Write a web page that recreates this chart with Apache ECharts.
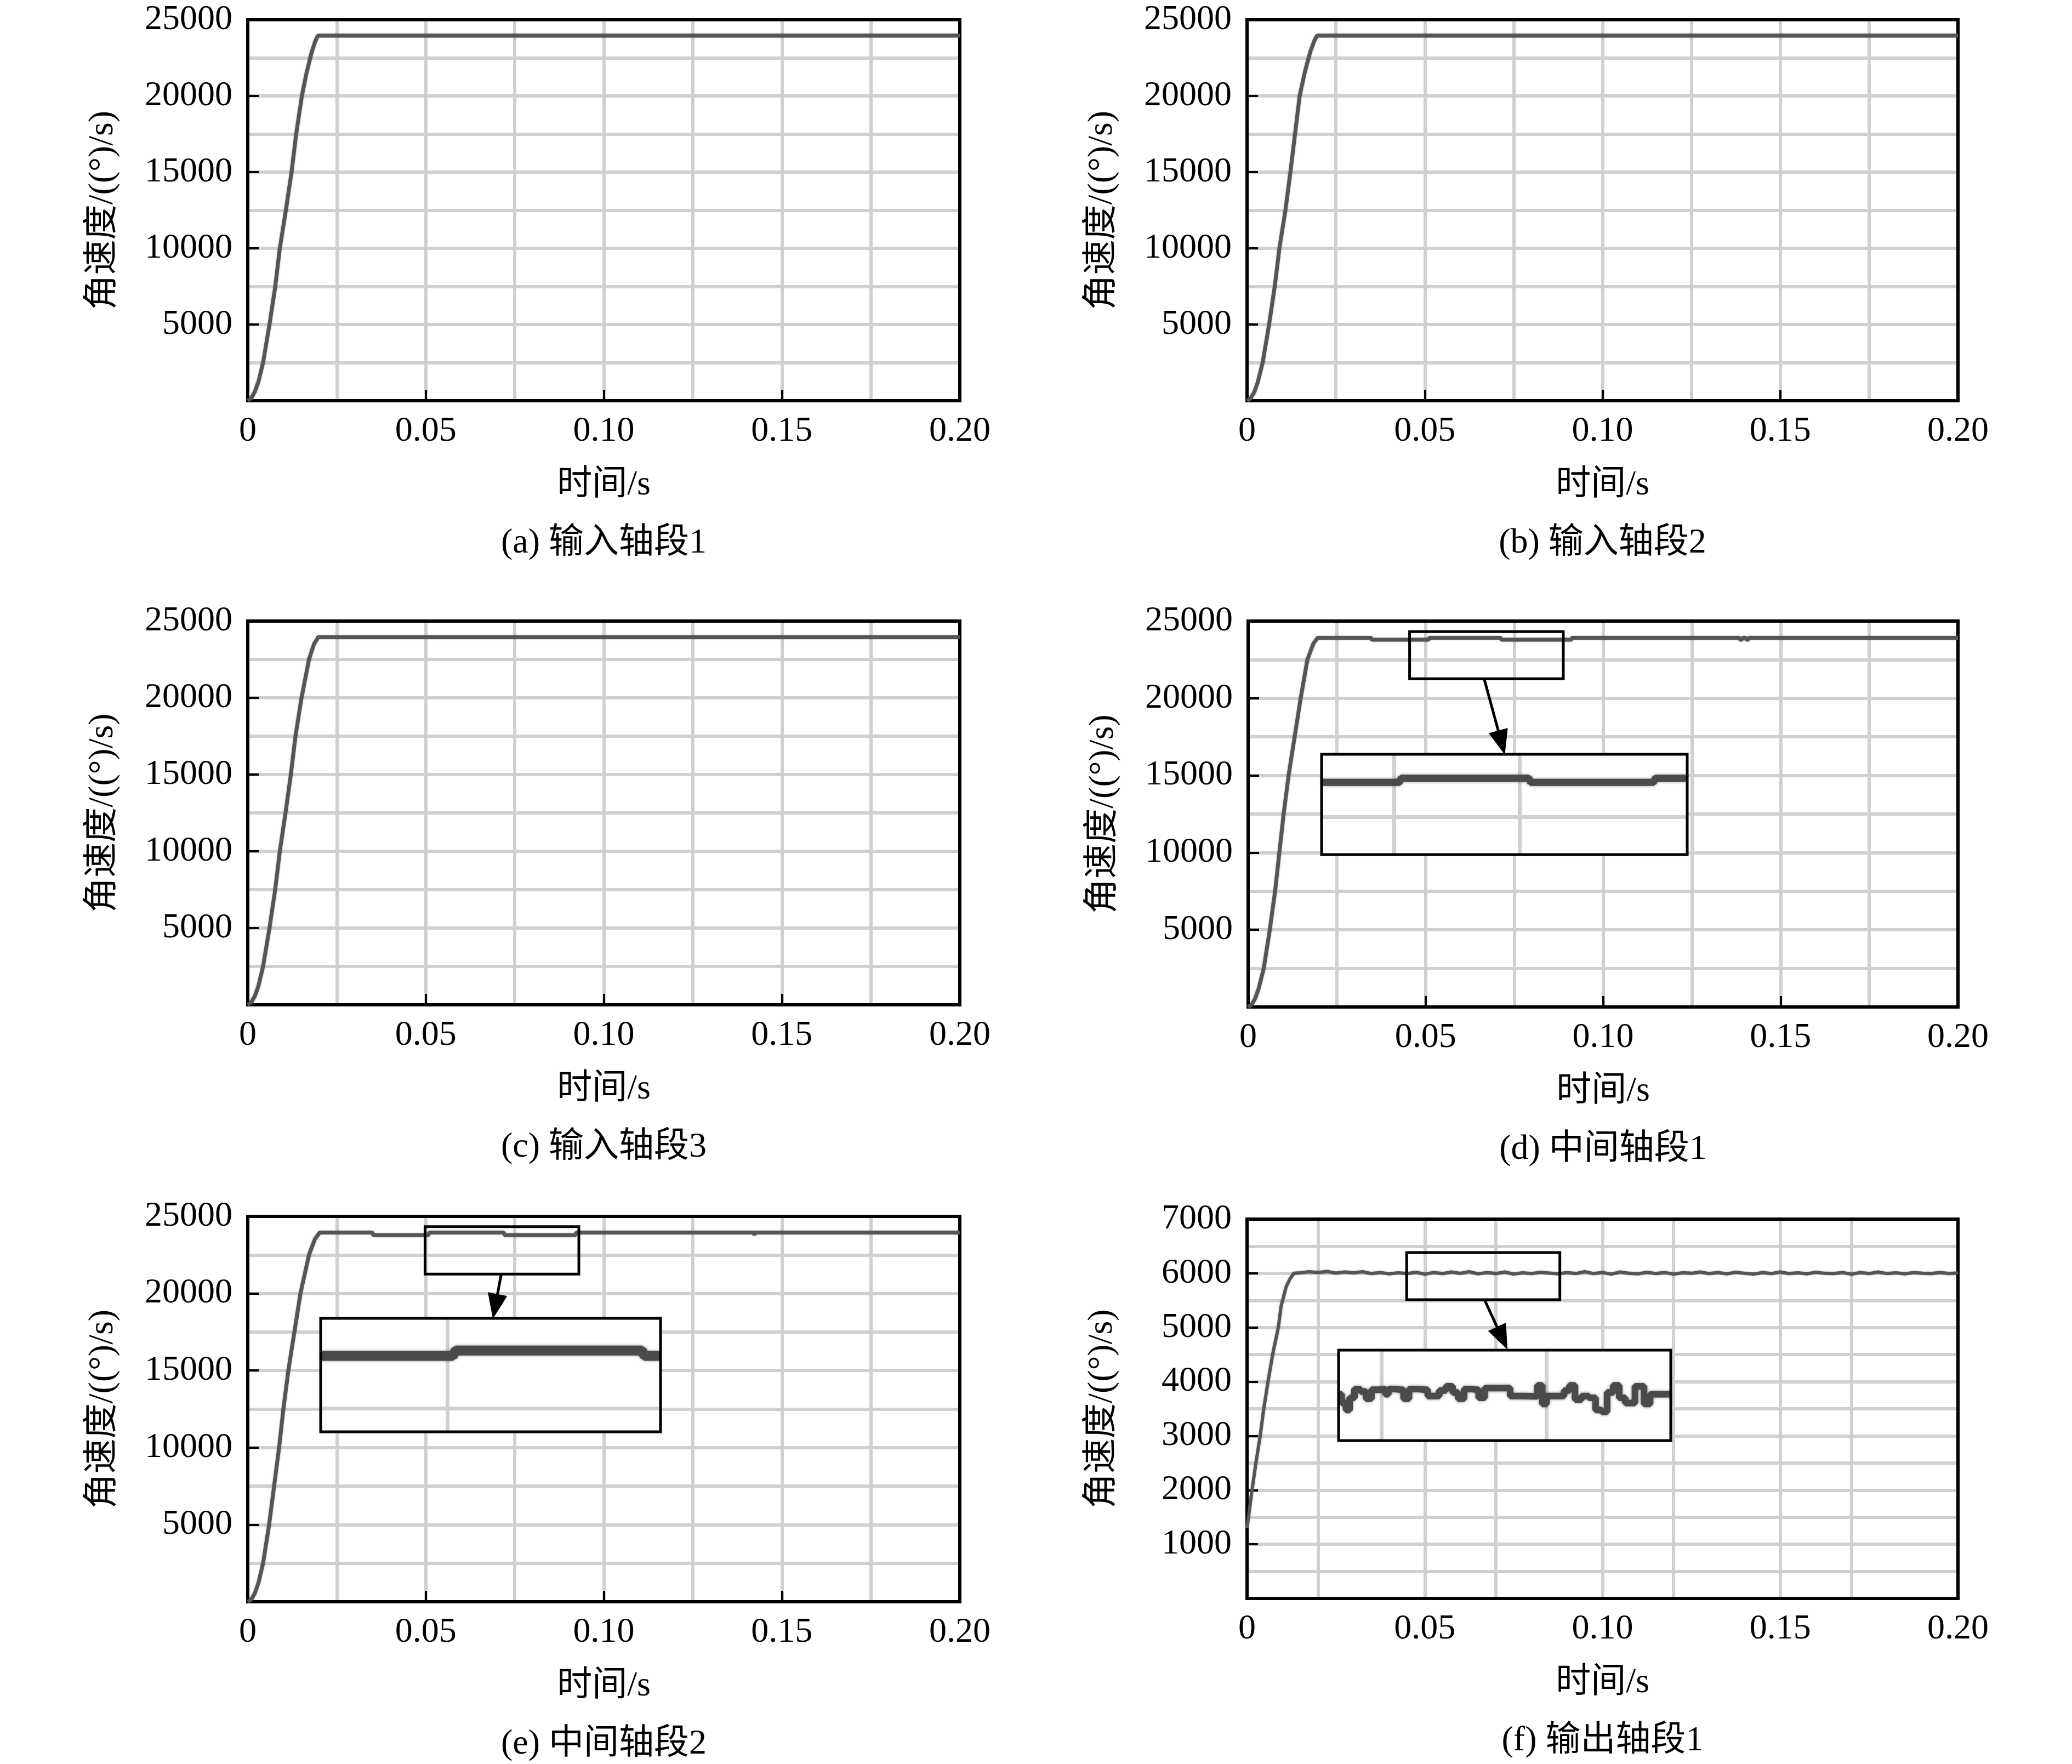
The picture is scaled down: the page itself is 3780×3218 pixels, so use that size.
<!DOCTYPE html>
<html>
<head>
<meta charset="utf-8">
<script src="https://cdn.jsdelivr.net/npm/echarts@6/dist/echarts.min.js"></script>
<style>html,body{margin:0;padding:0;background:#fff;}#c{width:3780px;height:3218px;}</style>
</head>
<body>
<div id="c"></div>
<script>
// ---------- text ----------
const xTickLabels = ['0', '0.05', '0.10', '0.15', '0.20'];
const yTickLabels = ['', '5000', '10000', '15000', '20000', '25000'];
const yTickLabelsF = ['', '1000', '2000', '3000', '4000', '5000', '6000', '7000'];
const xAxisTitle = '时间/s';
const yAxisTitle = '角速度/((°)/s)';
const captions = ['(a) 输入轴段1', '(b) 输入轴段2', '(c) 输入轴段3', '(d) 中间轴段1', '(e) 中间轴段2', '(f) 输出轴段1'];

// ---------- series data ----------
const tA = [0, 0.001, 0.002, 0.003, 0.0043, 0.0061, 0.0077, 0.009, 0.0107, 0.0123, 0.0136, 0.0152, 0.0165, 0.0179, 0.0189, 0.0197, 0.2];
const vA = [0, 170, 600, 1250, 2500, 5000, 7450, 10000, 12500, 15000, 17500, 20000, 21500, 22830, 23550, 23960, 23960];

const tB = [0, 0.001, 0.002, 0.003, 0.0044, 0.0062, 0.0078, 0.0091, 0.0108, 0.0122, 0.0135, 0.0148, 0.0163, 0.0178, 0.0189, 0.0197, 0.2];
const vB = [0, 150, 550, 1200, 2500, 5000, 7500, 10000, 12500, 15000, 17500, 20000, 21600, 22900, 23600, 23960, 23960];

const tC = [0, 0.001, 0.002, 0.003, 0.0043, 0.0061, 0.0077, 0.009, 0.0106, 0.0121, 0.0134, 0.0151, 0.0172, 0.0186, 0.0198, 0.2];
const vC = [0, 160, 580, 1230, 2500, 5000, 7500, 10000, 12500, 15000, 17500, 20000, 22500, 23500, 23950, 23950];

const tD = [0, 0.001, 0.002, 0.003, 0.0044, 0.0061, 0.0076, 0.0088, 0.01, 0.0114, 0.0131, 0.0148, 0.0167, 0.0184, 0.0196,
  0.0346, 0.0349, 0.0508, 0.0511, 0.0711, 0.0714, 0.091, 0.0913, 0.1384, 0.1386, 0.1391, 0.1393, 0.1402, 0.1404, 0.1409, 0.1411, 0.2];
const vD = [0, 150, 560, 1220, 2500, 5000, 7500, 10000, 12500, 15000, 17500, 20000, 22500, 23550, 23920,
  23920, 23790, 23790, 23920, 23920, 23790, 23790, 23920, 23920, 23790, 23790, 23920, 23920, 23790, 23790, 23920, 23920];

const tE = [0, 0.001, 0.002, 0.003, 0.0043, 0.006, 0.0074, 0.0088, 0.01, 0.0114, 0.0131, 0.0148, 0.0172, 0.0189, 0.0202,
  0.035, 0.0353, 0.0507, 0.051, 0.0719, 0.0722, 0.092, 0.0923, 0.1421, 0.1423, 0.1425, 0.2];
const vE = [0, 150, 560, 1220, 2500, 5000, 7500, 10000, 12500, 15000, 17500, 20000, 22500, 23550, 23950,
  23950, 23780, 23780, 23950, 23950, 23780, 23780, 23950, 23950, 23790, 23950, 23950];

const tFramp = [0, 0.0003, 0.0014, 0.0025, 0.0037, 0.0047, 0.0059, 0.0072, 0.0088, 0.0096, 0.011, 0.0121, 0.0132];
const vFramp = [1300, 1310, 2000, 2500, 3000, 3500, 4000, 4500, 5000, 5400, 5750, 5900, 6000];
const tFplat = [
  0.015, 0.0175, 0.02, 0.0225, 0.025, 0.0275, 0.03, 0.0325, 0.035, 0.0375,
  0.04, 0.0425, 0.045, 0.0475, 0.05, 0.0525, 0.055, 0.0575, 0.06, 0.0625,
  0.065, 0.0675, 0.07, 0.0725, 0.075, 0.0775, 0.08, 0.0825, 0.085, 0.0875,
  0.09, 0.0925, 0.095, 0.0975, 0.1, 0.1025, 0.105, 0.1075, 0.11, 0.1125,
  0.115, 0.1175, 0.12, 0.1225, 0.125, 0.1275, 0.13, 0.1325, 0.135, 0.1375,
  0.14, 0.1425, 0.145, 0.1475, 0.15, 0.1525, 0.155, 0.1575, 0.16, 0.1625,
  0.165, 0.1675, 0.17, 0.1725, 0.175, 0.1775, 0.18, 0.1825, 0.185, 0.1875,
  0.19, 0.1925, 0.195, 0.1975, 0.2];
const vFplat = [
  6010, 6030, 6015, 6035, 6005, 6025, 6010, 6030, 5995, 6015,
  5990, 6010, 5995, 6020, 5985, 6015, 5995, 6025, 6000, 6030,
  5990, 6015, 5995, 6025, 5985, 6010, 5995, 6020, 6005, 5990,
  6015, 5995, 6030, 5995, 6015, 5985, 6025, 6000, 5990, 6020,
  5995, 6015, 5985, 6010, 6000, 6025, 5995, 6015, 5990, 6020,
  6000, 5985, 6015, 5995, 6025, 5995, 6010, 5990, 6020, 6000,
  5995, 6015, 5985, 6015, 5995, 6025, 5995, 6010, 5990, 6015,
  6000, 5995, 6015, 5995, 6005];
const tF = tFramp.concat(tFplat);
const vF = vFramp.concat(vFplat);

// ---------- magnified insets ----------
const tDin = [0.0384, 0.0508, 0.0511, 0.0715, 0.0718, 0.0914, 0.0917, 0.0968];
const vDin = [23790, 23790, 23920, 23920, 23790, 23790, 23920, 23920];
const tEin = [0.0357, 0.0506, 0.0509, 0.0719, 0.0722, 0.074];
const vEin = [23780, 23780, 23950, 23950, 23780, 23780];
const tFin = [0.0448, 0.04489, 0.04548, 0.04592, 0.04636, 0.04709, 0.04783, 0.04842, 0.04915, 0.05033, 0.05062,
  0.05106, 0.05239, 0.05297, 0.05371, 0.05533, 0.05591, 0.05665, 0.05738, 0.05827, 0.059, 0.05959,
  0.06047, 0.0615, 0.06209, 0.06297, 0.06532, 0.06591, 0.06856, 0.06929, 0.06973, 0.07032, 0.07179,
  0.07252, 0.07311, 0.07385, 0.07473, 0.07561, 0.07635, 0.07708, 0.07767, 0.07855, 0.07914, 0.08002,
  0.08149, 0.08223, 0.08296, 0.08511];
const vFin = [6000, 6000, 5961, 5930, 5984, 6023, 6012, 5980, 6020, 6023, 6000,
  6023, 6020, 5980, 6023, 6020, 5992, 5992, 6016, 6035, 6008, 5980,
  6023, 6020, 5984, 6027, 6027, 5992, 5991, 6039, 5957, 5992, 5992,
  6016, 6039, 5977, 5992, 5984, 5930, 5922, 6008, 6039, 5984, 5961,
  6035, 5957, 6000, 6000];

// inset windows (axis ranges)
const insetXD = [0.0384, 0.0968], insetYD = [21500, 24680];
const insetXE = [0.0357, 0.074],  insetYE = [21361, 24977];
const insetXF = [0.0448, 0.0851], insetYF = [5795, 6195];
// grid lines inside the insets
const insetGridXD = [0.05, 0.075], insetGridYD = [22700];
const insetGridXE = [0.05],        insetGridYE = [22114];
const insetGridXF = [0.0454, 0.0716];
// vertical grid lines of panel (f)
const gridXF = [0.0195, 0.0454, 0.0714, 0.0972, 0.1232, 0.149, 0.175];
// zoom source boxes and arrows (data coordinates)
const boxD = [[0.0455, 24315], [0.0888, 21261]], arrowD = [[0.0665, 21261], [0.0714, 17120]];
const boxE = [[0.0498, 24335], [0.0930, 21255]], arrowE = [[0.0712, 21255], [0.0695, 19150]];
const boxF = [[0.0449, 6383], [0.0880, 5513]],   arrowF = [[0.0668, 5513], [0.0718, 4801]];

// ---------- styling / layout ----------
const FONT = "'Liberation Serif','Times New Roman','Noto Sans CJK SC',serif";
const FS = 64;
const GRID_C = '#d0d0d0';
const LINE_C = '#555555';
const mainRects = [
  {left: 452, top: 36, width: 1299, height: 695},
  {left: 2275, top: 36, width: 1297, height: 695},
  {left: 452, top: 1133, width: 1299, height: 700},
  {left: 2277, top: 1133, width: 1295, height: 704},
  {left: 452, top: 2219, width: 1299, height: 703},
  {left: 2275, top: 2224, width: 1297, height: 692}
];
const insetRects = [
  {left: 2411, top: 1376, width: 667, height: 183},
  {left: 585, top: 2405, width: 620, height: 207},
  {left: 2442, top: 2463, width: 606, height: 165}
];

const pairs = (t, v) => t.map((x, i) => [x, v[i]]);

const grids = [];
mainRects.forEach(r => grids.push(Object.assign({show: true, backgroundColor: 'rgba(0,0,0,0)', borderColor: '#000', borderWidth: 6, z: 1, containLabel: false, outerBoundsMode: 'none'}, r)));
insetRects.forEach(r => grids.push(Object.assign({show: true, backgroundColor: '#fff', borderWidth: 0, z: 3, containLabel: false, outerBoundsMode: 'none'}, r)));
insetRects.forEach(r => grids.push(Object.assign({show: true, backgroundColor: 'rgba(0,0,0,0)', borderColor: '#000', borderWidth: 5, z: 6, containLabel: false, outerBoundsMode: 'none'}, r)));

const gridLineStyle = {color: GRID_C, width: 6, type: 'solid'};
function mainX(gi, withGrid) {
  return {
    type: 'value', gridIndex: gi, min: 0, max: 0.2, interval: 0.05, z: 0,
    axisLine: {show: false},
    axisTick: {show: true, inside: true, length: 20, lineStyle: {color: '#000', width: 4}},
    axisLabel: {show: true, margin: 24, fontSize: FS, color: '#000', fontFamily: FONT, formatter: (v, i) => xTickLabels[i]},
    splitLine: {show: withGrid, lineStyle: gridLineStyle},
    minorTick: {show: false, splitNumber: 2},
    minorSplitLine: {show: withGrid, lineStyle: gridLineStyle},
    name: xAxisTitle, nameLocation: 'middle', nameGap: 122,
    nameTextStyle: {fontSize: FS, color: '#000', fontFamily: FONT}
  };
}
function mainY(gi, max, interval, labels) {
  return {
    type: 'value', gridIndex: gi, min: 0, max: max, interval: interval, z: 0,
    axisLine: {show: false},
    axisTick: {show: true, inside: true, length: 20, lineStyle: {color: '#000', width: 4}},
    axisLabel: {show: true, margin: 28, fontSize: FS, color: '#000', fontFamily: FONT, formatter: (v, i) => labels[i]},
    splitLine: {show: true, lineStyle: gridLineStyle},
    minorTick: {show: false, splitNumber: 2},
    minorSplitLine: {show: true, lineStyle: gridLineStyle},
    name: yAxisTitle, nameLocation: 'middle', nameGap: 232,
    nameTextStyle: {fontSize: FS, color: '#000', fontFamily: FONT}
  };
}
const hiddenAxis = (gi, range) => ({type: 'value', gridIndex: gi, min: range[0], max: range[1], show: false});

const xAxes = [mainX(0, true), mainX(1, true), mainX(2, true), mainX(3, true), mainX(4, true), mainX(5, false),
  hiddenAxis(6, insetXD), hiddenAxis(7, insetXE), hiddenAxis(8, insetXF),
  hiddenAxis(9, insetXD), hiddenAxis(10, insetXE), hiddenAxis(11, insetXF)];
const yAxes = [mainY(0, 25000, 5000, yTickLabels), mainY(1, 25000, 5000, yTickLabels), mainY(2, 25000, 5000, yTickLabels),
  mainY(3, 25000, 5000, yTickLabels), mainY(4, 25000, 5000, yTickLabels), mainY(5, 7000, 1000, yTickLabelsF),
  hiddenAxis(6, insetYD), hiddenAxis(7, insetYE), hiddenAxis(8, insetYF),
  hiddenAxis(9, insetYD), hiddenAxis(10, insetYE), hiddenAxis(11, insetYF)];

function mainSeries(i, t, v, box, arrow, width) {
  const s = {
    type: 'line', xAxisIndex: i, yAxisIndex: i, data: pairs(t, v), symbol: 'none', showSymbol: false,
    z: 2, silent: true, animation: false, emphasis: {disabled: true},
    lineStyle: {color: LINE_C, width: width || 7, shadowColor: 'rgba(0,0,0,0.35)', shadowBlur: 3}
  };
  if (box) {
    s.markArea = {silent: true, z: 7, itemStyle: {color: 'rgba(0,0,0,0)', borderColor: '#000', borderWidth: 5},
      label: {show: false}, data: [[{coord: box[0]}, {coord: box[1]}]]};
    s.markLine = {silent: true, z: 7, symbol: ['none', 'triangle'], symbolSize: [36, 46], animation: false,
      label: {show: false}, itemStyle: {color: '#000'}, lineStyle: {color: '#000', width: 5, type: 'solid'},
      emphasis: {disabled: true}, data: [[{coord: arrow[0]}, {coord: arrow[1]}]]};
  }
  return s;
}
function insetSeries(gi, t, v, gx, gy, w, step) {
  const lines = gx.map(x => ({xAxis: x})).concat(gy.map(y => ({yAxis: y})));
  return {
    type: 'line', xAxisIndex: gi, yAxisIndex: gi, data: pairs(t, v), symbol: 'none', showSymbol: false,
    step: step || false,
    z: 5, silent: true, animation: false, emphasis: {disabled: true}, clip: true,
    lineStyle: {color: '#4a4a4a', width: w, shadowColor: 'rgba(0,0,0,0.45)', shadowBlur: 5},
    markLine: {silent: true, z: 4, symbol: 'none', animation: false, label: {show: false},
      lineStyle: {color: GRID_C, width: 7, type: 'solid'}, emphasis: {disabled: true}, data: lines}
  };
}

const series = [
  mainSeries(0, tA, vA),
  mainSeries(1, tB, vB),
  mainSeries(2, tC, vC),
  mainSeries(3, tD, vD, boxD, arrowD),
  mainSeries(4, tE, vE, boxE, arrowE),
  mainSeries(5, tF, vF, boxF, arrowF, 6),
  {type: 'line', xAxisIndex: 5, yAxisIndex: 5, data: [], symbol: 'none', silent: true, animation: false,
    markLine: {silent: true, z: 0.5, symbol: 'none', animation: false, label: {show: false},
      lineStyle: {color: GRID_C, width: 6, type: 'solid'}, emphasis: {disabled: true},
      data: gridXF.map(x => ({xAxis: x}))}},
  insetSeries(6, tDin, vDin, insetGridXD, insetGridYD, 13),
  insetSeries(7, tEin, vEin, insetGridXE, insetGridYE, 18),
  insetSeries(8, tFin, vFin, insetGridXF, [], 12, 'middle')
];

const titles = captions.map((c, i) => {
  const r = mainRects[i];
  return {text: c, left: r.left + r.width / 2, top: r.top + r.height + 228, textAlign: 'center', padding: 0,
    textStyle: {fontSize: FS, fontWeight: 'normal', color: '#000', fontFamily: FONT}};
});

const chart = echarts.init(document.getElementById('c'), null, {renderer: 'canvas', width: 3780, height: 3218});
chart.setOption({
  animation: false,
  backgroundColor: '#fff',
  textStyle: {fontFamily: FONT, color: '#000'},
  title: titles,
  grid: grids,
  xAxis: xAxes,
  yAxis: yAxes,
  series: series
});
</script>
</body>
</html>
